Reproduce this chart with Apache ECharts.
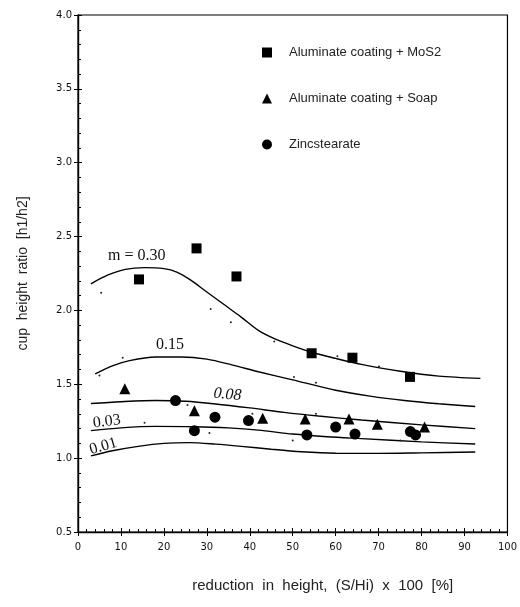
<!DOCTYPE html>
<html>
<head>
<meta charset="utf-8">
<script src="https://cdn.jsdelivr.net/npm/echarts@6/dist/echarts.min.js"></script>
<style>
  html, body { margin: 0; padding: 0; background: #fff; }
  #chart { width: 520px; height: 607px; }
</style>
</head>
<body>
<div id="chart"></div>
<script>
// measured points
const mos2 = [[14.2, 2.21], [27.6, 2.42], [36.9, 2.23], [54.4, 1.71], [63.9, 1.68], [77.3, 1.55]]
const soap = [[10.9, 1.47], [27.1, 1.32], [43.0, 1.27], [52.9, 1.265], [63.1, 1.265], [69.7, 1.23], [80.7, 1.21]]
const zinc = [[22.7, 1.39], [27.1, 1.186], [31.9, 1.277], [39.7, 1.254], [53.3, 1.157], [60.0, 1.21],
  [64.5, 1.163], [77.4, 1.18], [78.6, 1.157]]
// small calculated dots
const dots = [[5.4, 2.12], [30.9, 2.01], [35.6, 1.92], [45.7, 1.79], [60.4, 1.69], [70.1, 1.62], [5, 1.56],
  [10.4, 1.68], [50.3, 1.55], [55.4, 1.51], [25.5, 1.36], [15.5, 1.24], [30.6, 1.17], [40.6, 1.30],
  [55.4, 1.30], [50, 1.12], [75.1, 1.12]]

// curves for friction factor m
const m030x = [3, 7, 11, 15.5, 20, 23, 26, 30, 34, 38, 42, 46, 50, 54.6, 60, 66, 74.7, 84, 93.7]
const m030y = [2.18, 2.24, 2.278, 2.29, 2.283, 2.26, 2.21, 2.125, 2.04, 1.955, 1.865, 1.805, 1.76, 1.715, 1.675,
  1.635, 1.59, 1.555, 1.54]
const m015x = [4, 8, 12, 18, 24, 30, 36, 42, 50, 60, 68, 76, 84, 92.5]
const m015y = [1.57, 1.625, 1.66, 1.685, 1.685, 1.67, 1.63, 1.585, 1.53, 1.46, 1.42, 1.39, 1.368, 1.35]
const m008x = [3, 10, 18, 25, 32, 40, 48, 56, 66, 80, 92.5]
const m008y = [1.37, 1.382, 1.39, 1.385, 1.367, 1.34, 1.31, 1.285, 1.258, 1.225, 1.20]
const m003x = [3, 10, 18, 27, 35, 42, 50, 58, 66, 80, 92.5]
const m003y = [1.186, 1.205, 1.215, 1.213, 1.205, 1.19, 1.163, 1.145, 1.132, 1.11, 1.096]
const m001x = [3, 8, 14, 20, 26, 32, 38, 45, 52, 60, 70, 80, 92.5]
const m001y = [1.015, 1.05, 1.08, 1.1, 1.105, 1.095, 1.08, 1.06, 1.043, 1.033, 1.032, 1.036, 1.042]

// curve labels: [text, x, y, rotation]
const curveLabels = [
  ['m = 0.30', 13.7, 2.37, 0],
  ['0.15', 21.4, 1.77, 0],
  ['0.08', 34.8, 1.43, -5],
  ['0.03', 6.7, 1.247, 7],
  ['0.01', 5.9, 1.08, 16],
]

const xMin = 0
const xMax = 100
const yMin = 0.5
const yMax = 4.0

const chart = echarts.init(document.getElementById('chart'))

function zip(xs, ys) {
  return xs.map((x, i) => [x, ys[i]])
}

const tickFont = { fontFamily: 'DejaVu Sans', fontSize: 10, color: '#111' }

function curve(xs, ys, label) {
  return {
    type: 'line',
    data: zip(xs, ys),
    smooth: 0.3,
    showSymbol: false,
    symbol: 'none',
    silent: true,
    lineStyle: { color: '#000', width: 1.4 },
    z: 2,
    markPoint: {
      symbol: 'circle',
      symbolSize: 1,
      itemStyle: { color: 'transparent' },
      label: {
        show: true,
        position: 'inside',
        formatter: label[0],
        fontFamily: 'Liberation Serif',
        fontSize: 16,
        fontStyle: label[0] === '0.08' ? 'italic' : 'normal',
        color: '#111',
        rotate: label[3],
      },
      data: [{ coord: [label[1], label[2]] }],
    },
  }
}

const option = {
  backgroundColor: '#fff',
  animation: false,
  grid: { left: 78, right: 11, top: 15, bottom: 75, show: true, borderColor: '#000', borderWidth: 1.2 },
  legend: {
    orient: 'vertical',
    left: 257,
    top: 41,
    itemGap: 33,
    itemWidth: 10,
    itemHeight: 10,
    data: ['Aluminate coating + MoS2', 'Aluminate coating + Soap', 'Zincstearate'],
    textStyle: { fontFamily: 'Liberation Sans', fontSize: 13, color: '#222', padding: [0, 0, 0, 12] },
  },
  xAxis: [
    {
      type: 'value',
      min: xMin,
      max: xMax,
      interval: 10,
      name: 'reduction  in  height,  (S/Hi)  x  100  [%]',
      nameLocation: 'middle',
      nameGap: 46,
      nameTextStyle: { fontFamily: 'Liberation Sans', fontSize: 15, color: '#222', padding: [0, 0, 0, 60] },
      axisLine: { show: true, lineStyle: { color: '#000', width: 1.4 } },
      axisTick: { show: true, inside: true, length: 4, lineStyle: { color: '#000' } },
      minorTick: { show: true, splitNumber: 5, length: 3, lineStyle: { color: '#000' } },
      axisLabel: Object.assign({ margin: 10 }, tickFont),
      splitLine: { show: false },
    },
    {
      type: 'value',
      min: xMin,
      max: xMax,
      interval: 10,
      position: 'bottom',
      axisLine: { show: false },
      axisTick: { show: true, inside: false, length: 4, lineStyle: { color: '#000' } },
      axisLabel: { show: false },
      splitLine: { show: false },
    },
  ],
  yAxis: [
    {
      type: 'value',
      min: yMin,
      max: yMax,
      interval: 0.5,
      name: 'cup  height  ratio  [h1/h2]',
      nameLocation: 'middle',
      nameGap: 48,
      nameTextStyle: { fontFamily: 'Liberation Sans', fontSize: 14, color: '#222' },
      axisLine: { show: true, lineStyle: { color: '#000', width: 1.4 } },
      axisTick: { show: true, inside: true, length: 4, lineStyle: { color: '#000' } },
      minorTick: { show: true, splitNumber: 5, length: 3, lineStyle: { color: '#000' } },
      axisLabel: Object.assign({ margin: 6, formatter: (v) => v.toFixed(1) }, tickFont),
      splitLine: { show: false },
    },
    {
      type: 'value',
      min: yMin,
      max: yMax,
      interval: 0.5,
      position: 'left',
      axisLine: { show: false },
      axisTick: { show: true, inside: false, length: 4, lineStyle: { color: '#000' } },
      axisLabel: { show: false },
      splitLine: { show: false },
    },
  ],
  series: [
    curve(m030x, m030y, curveLabels[0]),
    curve(m015x, m015y, curveLabels[1]),
    curve(m008x, m008y, curveLabels[2]),
    curve(m003x, m003y, curveLabels[3]),
    curve(m001x, m001y, curveLabels[4]),
    {
      type: 'scatter',
      data: dots,
      symbol: 'circle',
      symbolSize: 2,
      silent: true,
      itemStyle: { color: '#222', opacity: 1 },
      z: 3,
    },
    {
      name: 'Aluminate coating + MoS2',
      type: 'scatter',
      data: mos2,
      symbol: 'rect',
      symbolSize: 10,
      itemStyle: { color: '#000', opacity: 1 },
      z: 5,
    },
    {
      name: 'Aluminate coating + Soap',
      type: 'scatter',
      data: soap,
      symbol: 'triangle',
      symbolSize: 11,
      itemStyle: { color: '#000', opacity: 1 },
      z: 5,
    },
    {
      name: 'Zincstearate',
      type: 'scatter',
      data: zinc,
      symbol: 'circle',
      symbolSize: 11,
      itemStyle: { color: '#000', opacity: 1 },
      z: 5,
    },
  ],
}

chart.setOption(option)
window.addEventListener('resize', function () {
  chart.resize()
})
</script>
</body>
</html>
